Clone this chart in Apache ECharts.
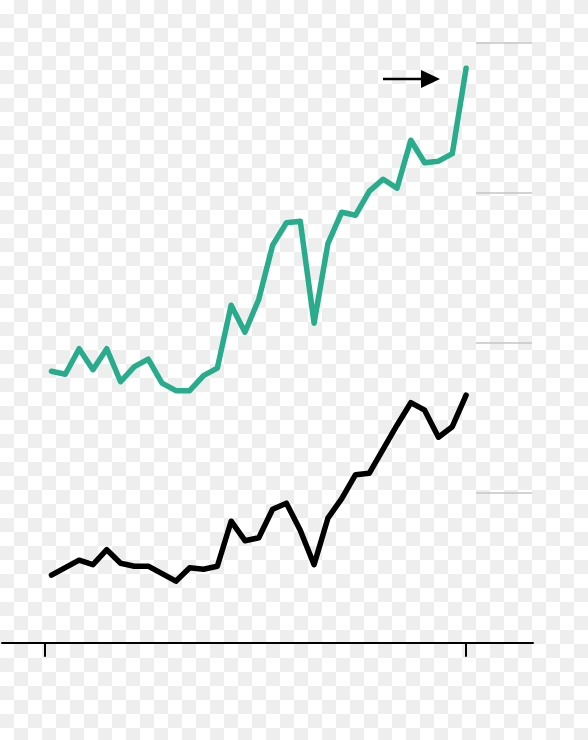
<!DOCTYPE html>
<html>
<head>
<meta charset="utf-8">
<script src="https://cdn.jsdelivr.net/npm/echarts@6/dist/echarts.min.js"></script>
<style>
  html, body { margin: 0; padding: 0; background: #fff; }
  #chart {
    width: 588px;
    height: 740px;
    background-color: #ffffff;
    /* 14px checkerboard backdrop */
    background-image: url("data:image/svg+xml,%3Csvg xmlns='http://www.w3.org/2000/svg' width='28' height='28'%3E%3Crect x='14' y='0' width='14' height='14' fill='%23eeeeee'/%3E%3Crect x='0' y='14' width='14' height='14' fill='%23eeeeee'/%3E%3C/svg%3E");
    background-size: 28px 28px;
    background-repeat: repeat;
  }
</style>
</head>
<body>
<div id="chart"></div>
<script>
// one point per year
const years = [1987, 1988, 1989, 1990, 1991, 1992, 1993, 1994, 1995, 1996,
  1997, 1998, 1999, 2000, 2001, 2002, 2003, 2004, 2005, 2006,
  2007, 2008, 2009, 2010, 2011, 2012, 2013, 2014, 2015, 2016, 2017];

// upper (green) series
const greenValues = [1.81, 1.79, 1.96, 1.82, 1.96, 1.74, 1.84, 1.89, 1.73, 1.68,
  1.68, 1.78, 1.83, 2.25, 2.07, 2.29, 2.65, 2.80, 2.81, 2.13,
  2.66, 2.87, 2.85, 3.01, 3.09, 3.03, 3.35, 3.20, 3.21, 3.26, 3.83];

// lower (black) series
const blackValues = [0.45, 0.50, 0.55, 0.52, 0.62, 0.53, 0.51, 0.51, 0.46, 0.41,
  0.50, 0.49, 0.51, 0.81, 0.68, 0.70, 0.89, 0.93, 0.75, 0.52,
  0.83, 0.96, 1.12, 1.13, 1.29, 1.45, 1.60, 1.55, 1.37, 1.44, 1.65];

// x ticks (start/end marks, no labels)
const xTickValues = [1986.5, 2017];

const green = '#28ac8c';

const chart = echarts.init(document.getElementById('chart'));

chart.setOption({
  animation: false,
  grid: [
    { left: 2, right: 55, top: 42.7, bottom: 97.3 },
    // short reference lines on the right
    { left: 476, width: 56, top: 42.7, bottom: 97.3 }
  ],
  xAxis: [
    {
      type: 'value',
      gridIndex: 0,
      min: 1983.42,
      max: 2021.84,
      splitLine: { show: false },
      axisLine: { lineStyle: { color: '#000', width: 2 } },
      axisTick: {
        show: true,
        customValues: xTickValues,
        length: 14,
        lineStyle: { color: '#000', width: 2 }
      },
      axisLabel: { show: false }
    },
    { type: 'value', gridIndex: 1, min: 0, max: 1, show: false }
  ],
  yAxis: [
    {
      type: 'value',
      gridIndex: 0,
      min: 0,
      max: 4,
      interval: 1,
      show: false
    },
    {
      type: 'value',
      gridIndex: 1,
      min: 0,
      max: 4,
      interval: 1,
      axisLine: { show: false },
      axisTick: { show: false },
      axisLabel: { show: false },
      splitLine: { lineStyle: { color: '#c4c4c4', width: 1.5 } }
    }
  ],
  series: [
    {
      type: 'line',
      data: years.map((y, i) => [y, greenValues[i]]),
      symbol: 'none',
      lineStyle: { color: green, width: 5.5, cap: 'round', join: 'round' }
    },
    {
      type: 'line',
      data: years.map((y, i) => [y, blackValues[i]]),
      symbol: 'none',
      lineStyle: { color: '#000', width: 5.5, cap: 'round', join: 'round' }
    }
  ],
  graphic: [
    {
      type: 'line',
      shape: { x1: 383, y1: 79, x2: 424, y2: 79 },
      style: { stroke: '#000', lineWidth: 2.5 }
    },
    {
      type: 'polygon',
      shape: { points: [[421, 70], [440, 79], [421, 88]] },
      style: { fill: '#000' }
    }
  ]
});
</script>
</body>
</html>
